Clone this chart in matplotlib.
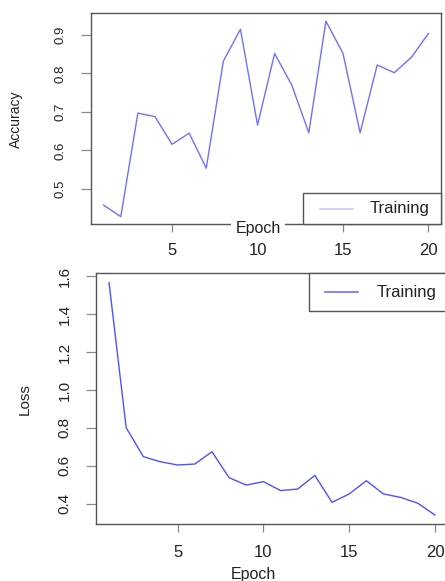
import matplotlib
matplotlib.use("Agg")
import matplotlib.pyplot as plt
from matplotlib.patches import Rectangle

# Werte
epochs = list(range(1, 21))
accuracy = [0.458, 0.428, 0.697, 0.688, 0.616, 0.645, 0.554, 0.832, 0.915, 0.666,
            0.852, 0.770, 0.646, 0.936, 0.852, 0.646, 0.822, 0.802, 0.842, 0.904]
loss = [1.567, 0.801, 0.648, 0.621, 0.604, 0.609, 0.674, 0.537, 0.498, 0.516,
        0.469, 0.477, 0.549, 0.407, 0.451, 0.521, 0.451, 0.433, 0.402, 0.340]
epoch_ticks = [5, 10, 15, 20]
acc_ticks = [0.5, 0.6, 0.7, 0.8, 0.9]
loss_ticks = [0.4, 0.6, 0.8, 1.0, 1.2, 1.4, 1.6]
legend_label = "Training"

plt.rcParams['font.family'] = ['Liberation Sans', 'DejaVu Sans']

FRAME = "#555555"
TICK = "#888888"
TXT = "#222222"


def r_lim(vals):
    # R-Stil: 4 % Rand auf beiden Seiten
    lo, hi = min(vals), max(vals)
    pad = 0.04 * (hi - lo)
    return lo - pad, hi + pad


def r_legend(ax, box, line, text_x, color, fs):
    x0, y0, x1, y1 = box
    ax.add_patch(Rectangle((x0, y0), x1 - x0, y1 - y0, transform=ax.transAxes,
                           facecolor="white", edgecolor=FRAME, lw=1.0,
                           zorder=5, clip_on=False))
    lx0, lx1, ly = line
    ax.plot([lx0, lx1], [ly, ly], transform=ax.transAxes, color=color,
            lw=1.1, zorder=6, clip_on=False)
    ax.text(text_x, ly, legend_label, transform=ax.transAxes, ha="left",
            va="center", fontsize=fs, color=TXT, zorder=6)


def style(ax, ysize, xsize, ypad, xpad):
    for s in ax.spines.values():
        s.set_color(FRAME)
        s.set_linewidth(1.0)
    ax.tick_params(axis="y", length=7.5, width=0.9, color=TICK, labelsize=ysize,
                   labelcolor=TXT, pad=ypad, labelrotation=90)
    ax.tick_params(axis="x", length=6, width=0.9, color=TICK, labelsize=xsize,
                   labelcolor=TXT, pad=xpad)
    for lab in ax.get_yticklabels():
        lab.set_va("center")


fig = plt.figure(figsize=(4.45, 5.81), dpi=100)

# --- Accuracy ---
ax1 = fig.add_axes([0.2038, 0.6136, 0.7883, 0.3635])
ax1.plot(epochs, accuracy, color="#7070ff", lw=1.0)
ax1.set_xlim(r_lim(epochs))
ax1.set_ylim(r_lim(accuracy))
ax1.set_xticks(epoch_ticks)
ax1.set_yticks(acc_ticks)
ax1.set_yticklabels([f"{v:.1f}" for v in acc_ticks])
style(ax1, 9.5, 12, 10, 7)
ax1.set_ylabel("Accuracy", fontsize=10, color=TXT)
ax1.yaxis.set_label_coords(-0.193, 0.5)
r_legend(ax1, (0.6043, 0.0, 1.0, 0.1506), (0.6537, 0.7469, 0.0734), 0.7962,
         "#c4c4ff", 12)
fig.text(258 / 445, 1 - 228 / 581, "Epoch", ha="center", va="center",
         fontsize=11.5, color=TXT, zorder=10,
         bbox=dict(boxstyle="square,pad=0.25", facecolor="white",
                   edgecolor="none"))

# --- Loss ---
ax2 = fig.add_axes([0.2157, 0.0976, 0.791, 0.432])
ax2.plot(epochs, loss, color="#5050ff", lw=1.0)
ax2.set_xlim(r_lim(epochs))
ax2.set_ylim(r_lim(loss))
ax2.set_xticks(epoch_ticks)
ax2.set_yticks(loss_ticks)
ax2.set_yticklabels([f"{v:.1f}" for v in loss_ticks])
style(ax2, 11, 12, 10, 9)
ax2.set_ylabel("Loss", fontsize=11, color=TXT)
ax2.yaxis.set_label_coords(-0.182, 0.5)
ax2.set_xlabel("Epoch", fontsize=11.5, color=TXT)
ax2.xaxis.set_label_coords(0.448, -0.172)
r_legend(ax2, (0.6051, 0.8498, 1.0, 1.0), (0.6506, 0.7443, 0.9255), 0.7983,
         "#6060ff", 12)

fig.savefig("out.png", dpi=100)
